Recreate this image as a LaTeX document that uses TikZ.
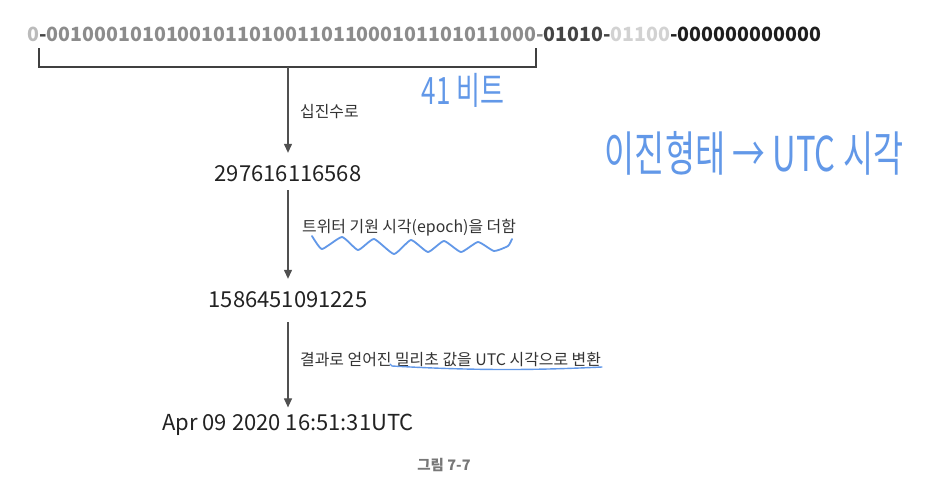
\documentclass[tikz,border=0pt]{standalone}
\usepackage{fontspec}
\setmainfont{Noto Sans CJK KR}
\usetikzlibrary{arrows.meta}
\definecolor{hand}{RGB}{98,152,232}
\definecolor{arrowgray}{HTML}{505050}
\definecolor{brkcol}{HTML}{404040}
\definecolor{numcol}{HTML}{222222}
\definecolor{lblcol}{HTML}{333333}
\definecolor{capgray}{HTML}{777777}
\definecolor{bitA}{HTML}{BBBBBB}
\definecolor{bitB}{HTML}{8C8C8C}
\definecolor{bitC}{HTML}{444444}
\definecolor{bitD}{HTML}{D2D2D2}
\definecolor{bitE}{HTML}{1E1E1E}
\begin{document}
\begin{tikzpicture}[x=1pt,y=-1pt,
  arr/.style={draw=arrowgray,line width=1.2pt,-{Triangle[length=9pt,width=8pt]}},
  num/.style={font=\fontsize{22}{26}\selectfont,text=numcol,inner sep=0pt,anchor=base},
  lbl/.style={font=\fontsize{15.9}{19}\selectfont,text=lblcol,inner sep=0pt,anchor=west},
  handtxt/.style={text=hand,inner sep=0pt},
  brk/.style={draw=brkcol,line width=1.3pt},
  scribble/.style={draw=hand,line width=1.8pt,line cap=round,line join=round}]
\useasboundingbox[fill=white] (0,0) rectangle (937,491);

\node[inner sep=0pt,anchor=base west,font=\bfseries\fontsize{19.6}{24}\selectfont] (bits) at (27,41)
 {\textcolor{bitA}{0}\textcolor{bitC}{-}\textcolor{bitB}{00100010101001011010011011000101101011000-}\textcolor{bitC}{01010-}\textcolor{bitD}{01100}\textcolor{bitE}{-000000000000}};

\coordinate (bl) at (39,48);
\coordinate (br) at (536,48);
\coordinate (bm) at (288,67);
\draw[brk] (bl) -- (bl |- bm) -- (br |- bm) -- (br);

\node[lbl] (l1) at (300,112) {십진수로};
\node[num] (n1) at (288,181) {297616116568};
\draw[arr] (bm) -- ([yshift=12pt]n1.north);

\node[lbl] (l2) at (302,228) {트위터 기원 시각(epoch)을 더함};
\node[num] (n2) at (288,307) {1586451091225};
\draw[arr] ([yshift=-9pt]n1.south) -- ([yshift=12pt]n2.north);

\node[lbl] (l3) at (300,360) {결과로 얻어진 밀리초 값을 UTC 시각으로 변환};
\node[num] (n3) at (288,430) {Apr 09 2020 16:51:31UTC};
\draw[arr] ([yshift=-15pt]n2.south) -- ([yshift=6pt]n3.north);

\node[font=\bfseries\fontsize{14.5}{17}\selectfont,text=capgray,inner sep=0pt] (cap) at (444,465) {그림 7-7};

\node[handtxt,font=\fontsize{26}{30}\selectfont] (h1) at (463,90) {\scalebox{1}[1.45]{41 비트}};
\node[handtxt,font=\fontsize{30}{34}\selectfont] (h2) at (754,153) {\scalebox{1.09}[1.6]{이진형태 → UTC 시각}};

\draw[scribble] plot[smooth,tension=0.3] coordinates {(312,236) (322,249) (342,237) (358,250) (374,239) (394,254) (411,240) (428,252) (444,241) (461,252) (478,242) (494,251) (508,246) (512,239)};
\draw[scribble,line width=1.4pt] (390,364) -- (392,366) .. controls (480,371) and (540,370) .. (602,367);
\end{tikzpicture}
\end{document}
